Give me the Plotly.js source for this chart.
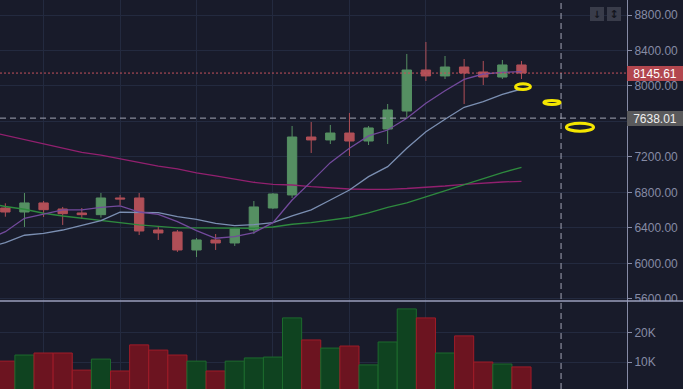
<!DOCTYPE html>
<html>
<head>
<meta charset="utf-8">
<script src="https://cdn.plot.ly/plotly-3.0.1.min.js"></script>
<style>html,body{margin:0;padding:0;background:#181b2a;}#chart{width:683px;height:389px;}</style>
</head>
<body>
<div id="chart"></div>
<script>
// ---- data ----
const candleIndex = [0,1,2,3,4,5,6,7,8,9,10,11,12,13,14,15,16,17,18,19,20,21,22,23,24,25,26,27];
const openPrice  = [6625,6580,6682,6614,6569,6550,6738,6738,6377,6355,6152,6265,6231,6377,6625,6772,7425,7392,7470,7380,7515,7718,8180,8113,8214,8158,8101,8237];
const highPrice  = [6678,6794,6704,6637,6625,6794,6772,6794,6423,6377,6287,6332,6395,6704,6794,7549,7594,7561,7696,7549,7797,8361,8496,8338,8304,8282,8293,8282];
const lowPrice   = [6527,6411,6524,6434,6501,6516,6659,6321,6265,6130,6073,6152,6197,6332,6614,6738,7245,7346,7211,7335,7346,7639,8056,8079,7797,8011,8079,8079];
const closePrice = [6580,6682,6606,6561,6550,6738,6727,6366,6344,6152,6265,6231,6389,6637,6783,7425,7392,7470,7380,7527,7730,8180,8113,8214,8146,8101,8237,8145.61];
const volume     = [10300,12400,13100,13100,7200,11000,6900,15900,14100,12400,10300,6900,10300,11400,11700,25200,17600,14800,15500,9000,16900,28300,25200,13100,19000,10000,9300,8300];

const maIndex = [-1,0,1,2,3,4,5,6,7,8,9,10,11,12,13,14,15,16,17,18,19,20,21,22,23,24,25,26,27];
const maFast  = [6265,6358,6509,6554,6603,6603,6633,6648,6580,6554,6471,6370,6284,6302,6347,6460,6715,6922,7136,7298,7437,7504,7636,7805,7947,8075,8135,8154,8161];
const maMid   = [6175,6234,6318,6340,6377,6426,6482,6577,6572,6572,6527,6498,6453,6426,6437,6460,6535,6603,6715,6828,6978,7091,7298,7485,7625,7760,7823,7906,7966];
const maSlow  = [6682,6642,6611,6566,6535,6509,6482,6453,6434,6419,6400,6400,6397,6392,6397,6411,6442,6460,6487,6518,6569,6631,6682,6749,6817,6884,6952,7025,7082];
const maLong  = [7493,7444,7399,7346,7301,7253,7222,7181,7132,7098,7065,7020,6986,6949,6915,6892,6884,6865,6851,6839,6836,6836,6845,6856,6873,6892,6907,6918,6926];

const priceTicks  = [5600,6000,6400,6800,7200,7600,8000,8400,8800];
const volumeTicks = [10000,20000];
const volumeTickText = ['10K','20K'];
const lastPrice = 8145.61;
const crossPrice = 7638.01;
const crossIndex = 29.07;
// user drawings (ellipses): [x0, x1, y0, y1] in index / price units
const drawnEllipses = [
  [26.69, 27.47, 7960, 8025],
  [28.17, 29.02, 7792, 7837],
  [29.35, 30.77, 7491, 7581]
];

// ---- styles ----
const BG = '#181b2a', GRID = '#232a3f', AX = '#868ba5';
const UP = '#558f62', DOWN = '#b04f57';
const VUP = '#0f4320', VUPL = '#1d6b2d', VDN = '#6c1420', VDNL = '#a01c28';
const FONT = 'Liberation Sans, Arial, sans-serif';

const volColors = candleIndex.map((_, i) => closePrice[i] >= openPrice[i] ? VUP : VDN);
const volLines  = candleIndex.map((_, i) => closePrice[i] >= openPrice[i] ? VUPL : VDNL);
// the crosshair price tag sits on top of the nearest axis label, hiding it
const priceTickText = priceTicks.map(v => Math.abs(v - crossPrice) < 100 ? '' : v.toFixed(2));

const traces = [
  { type:'bar', x:candleIndex, y:volume, xaxis:'x', yaxis:'y2',
    marker:{color:volColors, line:{color:volLines, width:1}}, hoverinfo:'skip' },
  { type:'scatter', mode:'lines', x:maIndex, y:maLong, line:{color:'#92206f', width:1.3}, hoverinfo:'skip' },
  { type:'scatter', mode:'lines', x:maIndex, y:maSlow, line:{color:'#2e8a3e', width:1.3}, hoverinfo:'skip' },
  { type:'scatter', mode:'lines', x:maIndex, y:maMid,  line:{color:'#7b8fb2', width:1.3}, hoverinfo:'skip' },
  { type:'scatter', mode:'lines', x:maIndex, y:maFast, line:{color:'#734a9c', width:1.3}, hoverinfo:'skip' },
  { type:'candlestick', x:candleIndex, open:openPrice, high:highPrice, low:lowPrice, close:closePrice,
    increasing:{line:{color:UP, width:1}, fillcolor:UP},
    decreasing:{line:{color:DOWN, width:1}, fillcolor:DOWN},
    whiskerwidth:0, hoverinfo:'skip' }
];

const split = 88/389;
const shapes = [
  { type:'line', xref:'paper', x0:0, x1:1, yref:'y', y0:lastPrice, y1:lastPrice,
    line:{color:'#c4525c', width:1, dash:'2px,2px'} },
  { type:'line', xref:'paper', x0:0, x1:1, yref:'y', y0:crossPrice, y1:crossPrice,
    line:{color:'#a2a5b4', width:1, dash:'6px,4px'} },
  { type:'line', xref:'x', x0:crossIndex, x1:crossIndex, yref:'paper', y0:0, y1:1,
    line:{color:'#a2a5b4', width:1, dash:'6px,4px'} },
  { type:'rect', xref:'paper', x0:1.002, x1:1.1, yref:'paper', y0:split-0.022, y1:split,
    fillcolor:BG, line:{width:0}, layer:'above' },
  { type:'line', xref:'paper', x0:0, x1:1.1, yref:'paper', y0:split, y1:split,
    line:{color:'#9a9fbd', width:1.6}, layer:'above' }
];
drawnEllipses.forEach(e => shapes.push({
  type:'circle', xref:'x', yref:'y', x0:e[0], x1:e[1], y0:e[2], y1:e[3],
  line:{color:'#f4e600', width:3}
}));

const annotations = [
  { xref:'paper', x:1, xanchor:'left', yref:'y', y:lastPrice, yanchor:'middle',
    text:lastPrice.toFixed(2), showarrow:false, bgcolor:'#b2474f', borderpad:2, borderwidth:0,
    width:52, height:11, font:{family:FONT, size:12, color:'#ffffff'} },
  { xref:'paper', x:1, xanchor:'left', yref:'y', y:crossPrice, yanchor:'middle',
    text:crossPrice.toFixed(2), showarrow:false, bgcolor:'#5a5a5c', borderpad:2, borderwidth:0,
    width:52, height:11, font:{family:FONT, size:12, color:'#eeeeee'} },
  { xref:'paper', x:1, xanchor:'left', xshift:6, yref:'y2', y:0, yanchor:'middle',
    text:'0', showarrow:false, font:{family:FONT, size:12, color:AX} },
  { xref:'paper', x:597/627, xanchor:'center', yref:'paper', y:1-14/389, yanchor:'middle',
    text:'<b>↓</b>', showarrow:false, bgcolor:'#393c4a', borderpad:1, borderwidth:0,
    width:12, height:12, font:{family:'DejaVu Sans', size:10, color:'#14161e'} },
  { xref:'paper', x:614/627, xanchor:'center', yref:'paper', y:1-14/389, yanchor:'middle',
    text:'<b>↕</b>', showarrow:false, bgcolor:'#393c4a', borderpad:1, borderwidth:0,
    width:12, height:12, font:{family:'DejaVu Sans', size:11, color:'#14161e'} }
];

const layout = {
  width:683, height:389,
  margin:{l:0, r:56, t:0, b:0, pad:0},
  paper_bgcolor:BG, plot_bgcolor:BG,
  showlegend:false, hovermode:false, dragmode:false,
  boxgap:0.3, bargap:0,
  font:{family:FONT, size:12, color:AX},
  xaxis:{ range:[-0.28, 32.52], tickvals:[2,6,10,14,18,22], showticklabels:false, ticks:'',
          showgrid:true, gridcolor:GRID, gridwidth:1, zeroline:false, showline:false,
          rangeslider:{visible:false}, fixedrange:true, anchor:'y2' },
  yaxis:{ domain:[split, 1], range:[5577, 8969], side:'right', anchor:'x',
          tickvals:priceTicks, ticktext:priceTickText,
          showgrid:true, gridcolor:GRID, gridwidth:1, zeroline:false,
          showline:true, linecolor:AX, linewidth:1, mirror:false,
          ticks:'outside', ticklen:4, tickcolor:AX, tickwidth:1,
          tickfont:{family:FONT, size:12, color:AX}, fixedrange:true },
  yaxis2:{ domain:[0, split], range:[690, 31030], side:'right', anchor:'x',
          tickvals:volumeTicks, ticktext:volumeTickText,
          showgrid:true, gridcolor:GRID, gridwidth:1, zeroline:false,
          showline:true, linecolor:AX, linewidth:1,
          ticks:'outside', ticklen:4, tickcolor:AX, tickwidth:1,
          tickfont:{family:FONT, size:12, color:AX}, fixedrange:true },
  shapes:shapes,
  annotations:annotations
};

Plotly.newPlot('chart', traces, layout, {displayModeBar:false, staticPlot:true});
</script>
</body>
</html>
